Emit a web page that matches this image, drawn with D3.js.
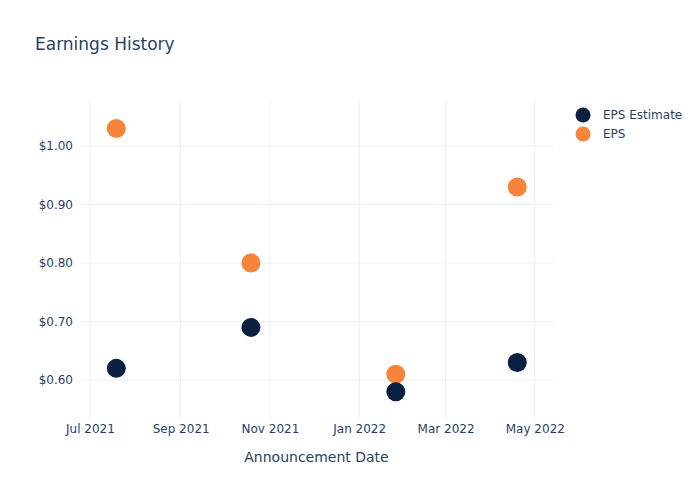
<!DOCTYPE html>
<html>
<head>
<meta charset="utf-8">
<script src="https://cdn.jsdelivr.net/npm/d3@7"></script>
<style>
  html, body { margin: 0; padding: 0; background: #fff; }
  svg { display: block; }
  text { font-family: "DejaVu Sans", Verdana, sans-serif; fill: #2a3f5f; }
</style>
</head>
<body>
<svg id="chart" width="700" height="500"></svg>
<script>
const dates = ["2021-07-19", "2021-10-19", "2022-01-26", "2022-04-19"];
const epsEstimate = [0.62, 0.69, 0.58, 0.63];
const eps = [1.03, 0.80, 0.61, 0.93];
const yTicks = [0.60, 0.70, 0.80, 0.90, 1.00];
const seriesNames = ["EPS Estimate", "EPS"];
const seriesColors = ["#0b1f41", "#f7843a"];

const W = 700, H = 500;
const m = { l: 80, r: 147, t: 100, b: 80 };
const svg = d3.select("#chart");

const parse = d3.utcParse("%Y-%m-%d");
const x = d3.scaleUtc()
  .domain([new Date(Date.UTC(2021, 5, 24, 5)), new Date(Date.UTC(2022, 4, 13, 10))])
  .range([m.l, W - m.r]);
const y = d3.scaleLinear().domain([0.530, 1.077]).range([H - m.b + 1, m.t + 1]);

const xTicks = x.ticks(d3.utcMonth.every(2));

// grid
const g = svg.append("g");
g.selectAll(".xg").data(xTicks).join("line")
  .attr("x1", d => x(d)).attr("x2", d => x(d))
  .attr("y1", m.t).attr("y2", H - m.b)
  .attr("stroke", "#ebf0f8").attr("stroke-width", 1);
g.selectAll(".yg").data(yTicks).join("line")
  .attr("x1", m.l).attr("x2", W - m.r)
  .attr("y1", d => y(d)).attr("y2", d => y(d))
  .attr("stroke", "#ebf0f8").attr("stroke-width", 1);

// axes (labels only)
const xAxis = d3.axisBottom(x).tickValues(xTicks).tickFormat(d3.utcFormat("%b %Y")).tickSize(0).tickPadding(4);
const xg = svg.append("g").attr("transform", `translate(0,${H - m.b})`).call(xAxis);
xg.select(".domain").remove();
xg.selectAll("text").style("font-size", "12px").attr("fill", "#2a3f5f")
  .style("font-family", '"DejaVu Sans", Verdana, sans-serif');

const yAxis = d3.axisLeft(y).tickValues(yTicks).tickFormat(d => "$" + d.toFixed(2)).tickSize(0).tickPadding(7);
const yg = svg.append("g").attr("transform", `translate(${m.l},0)`).call(yAxis);
yg.select(".domain").remove();
yg.selectAll("text").style("font-size", "12px").attr("fill", "#2a3f5f")
  .style("font-family", '"DejaVu Sans", Verdana, sans-serif');

// points: EPS under, estimate on top
const series = [
  { name: seriesNames[1], color: seriesColors[1], vals: eps },
  { name: seriesNames[0], color: seriesColors[0], vals: epsEstimate }
];
series.forEach(s => {
  svg.append("g").selectAll("circle").data(dates.map((d, i) => ({ d: parse(d), v: s.vals[i] })))
    .join("circle")
    .attr("cx", p => x(p.d)).attr("cy", p => y(p.v)).attr("r", 9.5)
    .attr("fill", s.color);
});

// title
svg.append("text").attr("x", 35).attr("y", 50).text("Earnings History")
  .style("font-size", "17px");

// x axis title
svg.append("text").attr("x", (m.l + W - m.r) / 2).attr("y", 462).attr("text-anchor", "middle")
  .text("Announcement Date").style("font-size", "14px");

// legend
const lg = svg.append("g");
seriesNames.forEach((n, i) => {
  lg.append("circle").attr("cx", 583).attr("cy", 115 + i * 19).attr("r", 7.5).attr("fill", seriesColors[i]);
  lg.append("text").attr("x", 603).attr("y", 119 + i * 19).text(n).style("font-size", "12px");
});
</script>
</body>
</html>
